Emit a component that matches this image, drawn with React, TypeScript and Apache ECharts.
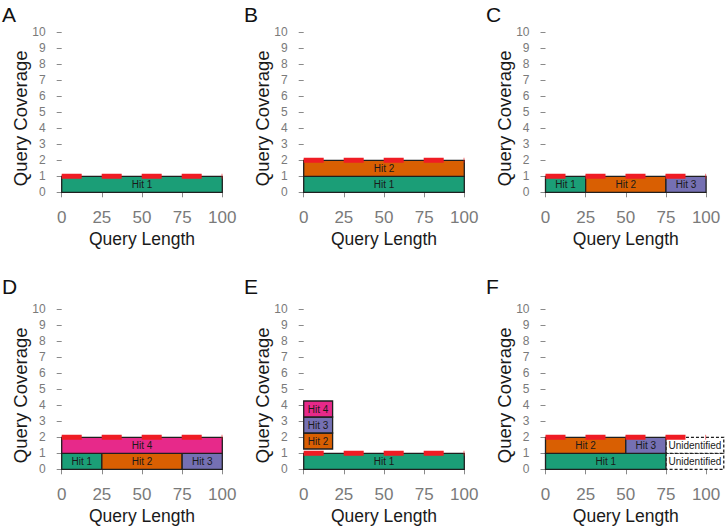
import React, { useEffect, useRef } from "react";
import * as echarts from "echarts";

// ---- data ----
const panelLetters = ["A", "B", "C", "D", "E", "F"];
const xTicks = [0, 25, 50, 75, 100];
const yTicks = [0, 1, 2, 3, 4, 5, 6, 7, 8, 9, 10];
// [label, xStart, xEnd, yStart, yEnd]
const hitsA: [string, number, number, number, number][] = [["Hit 1", 0, 100, 0, 1]];
const hitsB: [string, number, number, number, number][] = [
  ["Hit 1", 0, 100, 0, 1],
  ["Hit 2", 0, 100, 1, 2],
];
const hitsC: [string, number, number, number, number][] = [
  ["Hit 1", 0, 25, 0, 1],
  ["Hit 2", 25, 75, 0, 1],
  ["Hit 3", 75, 100, 0, 1],
];
const hitsD: [string, number, number, number, number][] = [
  ["Hit 1", 0, 25, 0, 1],
  ["Hit 2", 25, 75, 0, 1],
  ["Hit 3", 75, 100, 0, 1],
  ["Hit 4", 0, 100, 1, 2],
];
const hitsE: [string, number, number, number, number][] = [
  ["Hit 1", 0, 100, 0, 1],
  ["Hit 2", 0, 18, 1.27, 2.27],
  ["Hit 3", 0, 18, 2.27, 3.27],
  ["Hit 4", 0, 18, 3.27, 4.27],
];
const hitsF: [string, number, number, number, number][] = [
  ["Unidentified", 75, 111, 0, 1],
  ["Unidentified", 75, 111, 1, 2],
  ["Hit 1", 0, 75, 0, 1],
  ["Hit 2", 0, 50, 1, 2],
  ["Hit 3", 50, 75, 1, 2],
];
const panelHits = [hitsA, hitsB, hitsC, hitsD, hitsE, hitsF];
const coverage = [1, 2, 1, 2, 1, 2];
const coverageSpan = [0, 100];

// ---- styles ----
const hitColors: Record<string, string> = {
  "Hit 1": "#1b9e77",
  "Hit 2": "#d95f02",
  "Hit 3": "#7570b3",
  "Hit 4": "#e7298a",
  Unidentified: "#ffffff",
};
const FONT = "'Liberation Sans', Arial, Helvetica, sans-serif";
const colLeft = [61.7, 303.7, 545.5];
const rowTop = [32.3, 309.3];
const plotW = 160.6;
const plotH = 160;

export default function App() {
  const ref = useRef<HTMLDivElement>(null);
  useEffect(() => {
    if (!ref.current) return;
    const chart = echarts.init(ref.current, null, { renderer: "svg" });
    const grids: any[] = [];
    const xAxes: any[] = [];
    const yAxes: any[] = [];
    const series: any[] = [];
    const graphics: any[] = [];
    panelLetters.forEach((letter, i) => {
      const col = i % 3;
      const row = Math.floor(i / 3);
      const left = colLeft[col];
      const top = rowTop[row];
      grids.push({ left, top, width: plotW, height: plotH, outerBoundsMode: "none", containLabel: false });
      xAxes.push({
        gridIndex: i,
        type: "value",
        min: xTicks[0],
        max: xTicks[xTicks.length - 1],
        interval: 25,
        offset: 8,
        axisLine: { show: false },
        axisTick: { show: true, length: 5, lineStyle: { color: "#8a8a8a", width: 1 } },
        axisLabel: { color: "#7a7a7a", fontSize: 17, fontFamily: FONT, margin: 9 },
        splitLine: { show: false },
      });
      yAxes.push({
        gridIndex: i,
        type: "value",
        min: yTicks[0],
        max: yTicks[yTicks.length - 1],
        interval: 1,
        offset: 8,
        axisLine: { show: false },
        axisTick: { show: true, length: 5, lineStyle: { color: "#8a8a8a", width: 1 } },
        axisLabel: { color: "#7a7a7a", fontSize: 12, fontFamily: FONT, margin: 8 },
        splitLine: { show: false },
      });
      const hits = panelHits[i];
      series.push({
        type: "custom",
        xAxisIndex: i,
        yAxisIndex: i,
        z: 2,
        clip: false,
        data: hits.map((h) => [h[1], h[2], h[3], h[4]]),
        encode: { x: [0, 1], y: [2, 3] },
        renderItem: (params: any, api: any) => {
          const h = hits[params.dataIndex];
          const p0 = api.coord([api.value(0), api.value(3)]);
          const p1 = api.coord([api.value(1), api.value(2)]);
          const dashed = h[0] === "Unidentified";
          return {
            type: "group",
            children: [
              {
                type: "rect",
                shape: { x: p0[0], y: p0[1], width: p1[0] - p0[0], height: p1[1] - p0[1] },
                style: {
                  fill: hitColors[h[0]],
                  stroke: "#1f1f1f",
                  lineWidth: 1.3,
                  lineDash: dashed ? [3, 2] : null,
                },
              },
              {
                type: "text",
                style: {
                  text: h[0],
                  x: (p0[0] + p1[0]) / 2,
                  y: (p0[1] + p1[1]) / 2 + 0.5,
                  align: "center",
                  verticalAlign: "middle",
                  fontSize: 10,
                  fontFamily: FONT,
                  fill: "#1a1a1a",
                },
              },
            ],
          };
        },
      });
      series.push({
        type: "line",
        xAxisIndex: i,
        yAxisIndex: i,
        z: 3,
        symbol: "none",
        silent: true,
        clip: false,
        data: coverageSpan.map((x) => [x, coverage[i]]),
        lineStyle: { color: "#ef1c24", width: 5, type: [20, 20], cap: "butt" },
      });
      // panel letter
      graphics.push({
        type: "text",
        x: 2 + col * 242,
        y: row === 0 ? 14.5 : 286.5,
        style: { text: letter, fontSize: 21, fontFamily: FONT, fill: "#111", align: "left", verticalAlign: "middle" },
      });
      // x title
      graphics.push({
        type: "text",
        x: left + plotW / 2,
        y: top + plotH + 47,
        style: { text: "Query Length", fontSize: 17.5, fontFamily: FONT, fill: "#1a1a1a", align: "center", verticalAlign: "middle" },
      });
      // y title
      graphics.push({
        type: "text",
        x: 20 + col * 242,
        y: top + 86,
        rotation: Math.PI / 2,
        style: { text: "Query Coverage", fontSize: 18.5, fontFamily: FONT, fill: "#1a1a1a", align: "center", verticalAlign: "middle" },
      });
    });
    chart.setOption({
      animation: false,
      backgroundColor: "#ffffff",
      grid: grids,
      xAxis: xAxes,
      yAxis: yAxes,
      series,
      graphic: graphics,
    });
    return () => chart.dispose();
  }, []);
  return <div ref={ref} style={{ width: 726, height: 531, position: "absolute", left: 0, top: 0 }} />;
}
